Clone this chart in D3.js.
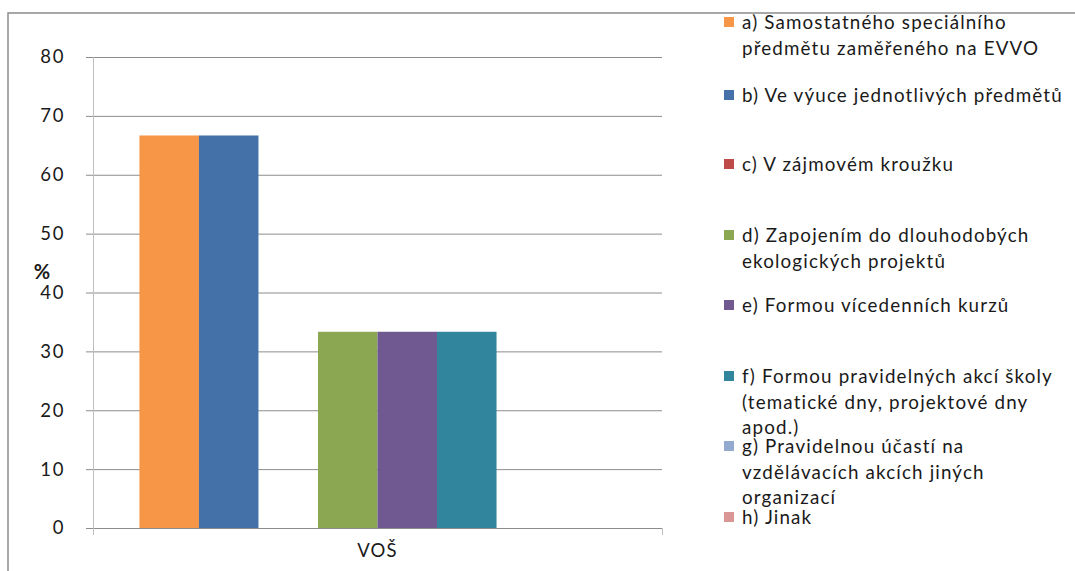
<!DOCTYPE html>
<html><head><meta charset="utf-8">
<script src="https://cdn.jsdelivr.net/npm/d3@7"></script>
<style>
body{margin:0;background:#fff;}
text{font-family:Lato,"Open Sans",sans-serif;fill:#1a1a1a;}
</style></head>
<body><svg id="c" width="1075" height="571"></svg>
<script>
const categories = ["VOŠ"];
const seriesNames = [
  "a) Samostatného speciálního předmětu zaměřeného na EVVO",
  "b) Ve výuce jednotlivých předmětů",
  "c) V zájmovém kroužku",
  "d) Zapojením do dlouhodobých ekologických projektů",
  "e) Formou vícedenních kurzů",
  "f) Formou pravidelných akcí školy (tematické dny, projektové dny apod.)",
  "g) Pravidelnou účastí na vzdělávacích akcích jiných organizací",
  "h) Jinak"
];
const legendLines = [
  ["a) Samostatného speciálního","předmětu zaměřeného na EVVO"],
  ["b) Ve výuce jednotlivých předmětů"],
  ["c) V zájmovém kroužku"],
  ["d) Zapojením do dlouhodobých","ekologických projektů"],
  ["e) Formou vícedenních kurzů"],
  ["f) Formou pravidelných akcí školy","(tematické dny, projektové dny","apod.)"],
  ["g) Pravidelnou účastí na","vzdělávacích akcích jiných","organizací"],
  ["h) Jinak"]
];
const values = [66.67, 66.67, 0, 33.33, 33.33, 33.33, 0, 0];
const colors = ["#f79646","#4472a8","#be4b48","#8ba752","#705891","#31859c","#93a9cf","#d99694"];
const yTicks = [0,10,20,30,40,50,60,70,80];
const yLabel = "%";

const svg = d3.select("#c");
svg.append("path").attr("d","M8,571 V13 H1075").attr("fill","none").attr("stroke","#8c8c8c").attr("stroke-width",1.5);

const x0 = 93, x1 = 662, yTop = 57, yBot = 528;
const y = d3.scaleLinear().domain([0,80]).range([yBot,yTop]);
const xc = d3.scaleBand().domain(categories).range([x0,x1]).paddingInner(0).paddingOuter(0);
const xs = d3.scaleBand().domain(d3.range(values.length)).range([0, xc.bandwidth()]).paddingOuter(0.78).paddingInner(0);

svg.append("g").selectAll("line").data(yTicks.filter(d=>d>0)).join("line")
  .attr("x1",x0).attr("x2",x1).attr("y1",d=>y(d)+0.5).attr("y2",d=>y(d)+0.5)
  .attr("stroke","#8c8c8c").attr("stroke-width",1);

const ya = svg.append("g").attr("transform",`translate(${x0},0)`)
  .call(d3.axisLeft(y).tickValues(yTicks).tickSize(7).tickPadding(21));
ya.select(".domain").attr("stroke","#bfbfbf").attr("d",`M0.5,${yTop}V${yBot+7}`);
ya.selectAll(".tick line").attr("stroke","#8c8c8c");
ya.selectAll(".tick text").attr("font-size",18.5).style("font-family","Lato,sans-serif").style("letter-spacing","1.6px").attr("fill","#1a1a1a");

svg.append("g").selectAll("rect").data(values).join("rect")
  .attr("x",(d,i)=>xc(categories[0])+xs(i))
  .attr("width",xs.bandwidth())
  .attr("y",d=>y(d)).attr("height",d=>yBot-y(d))
  .attr("fill",(d,i)=>colors[i]);

const xa = svg.append("g").attr("transform",`translate(0,${yBot})`)
  .call(d3.axisBottom(xc).tickSize(0).tickPadding(16));
xa.select(".domain").attr("stroke","#8c8c8c").attr("stroke-width",1.2).attr("d",`M${x0},0.5H${x1}`);
xa.selectAll(".tick text").attr("font-size",18.5).style("font-family","Lato,sans-serif").style("letter-spacing","1.2px").attr("fill","#1a1a1a");
[x0,x1].forEach(xx=>svg.append("line").attr("x1",xx+0.5).attr("x2",xx+0.5).attr("y1",yBot).attr("y2",yBot+7).attr("stroke","#bfbfbf"));

svg.append("text").attr("x",42).attr("y",279).attr("text-anchor","middle").attr("font-size",20).attr("font-weight","bold").text(yLabel);

const legY = [29,102,171,242,312,383,453,524];
const lg = svg.append("g");
legendLines.forEach((lines,i)=>{
  lg.append("rect").attr("x",724).attr("y",legY[i]-12).attr("width",10).attr("height",10).attr("fill",colors[i]);
  const t = lg.append("text").attr("x",742).attr("y",legY[i]).attr("font-size",18.8).style("letter-spacing","1.15px");
  lines.forEach((l,j)=>t.append("tspan").attr("x",742).attr("dy",j?25.5:0).text(l));
});
</script></body></html>
